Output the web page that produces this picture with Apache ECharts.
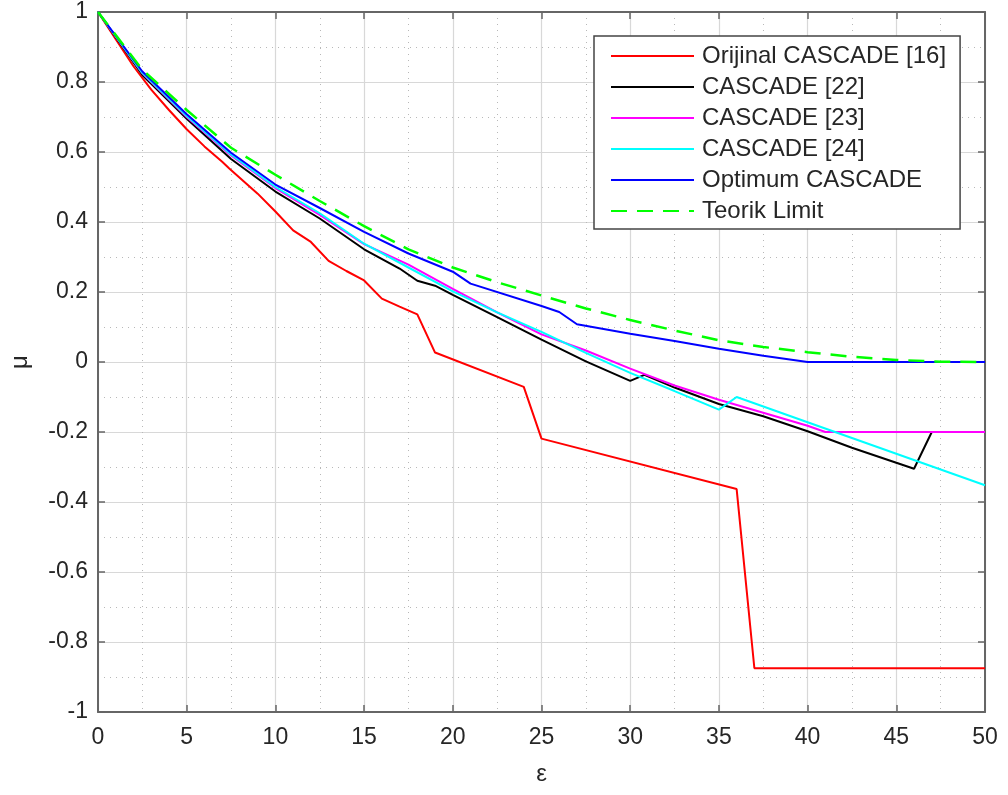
<!DOCTYPE html>
<html>
<head>
<meta charset="utf-8">
<title>CASCADE</title>
<script src="https://cdn.jsdelivr.net/npm/echarts@6/dist/echarts.min.js"></script>
<style>
    html, body { margin: 0; padding: 0; background: #fff; }
    #chart { width: 1008px; height: 795px; }
</style>
</head>
<body>
<div id="chart"></div>
<script>
// tick positions
const xTicks = [0, 5, 10, 15, 20, 25, 30, 35, 40, 45, 50];
const yTicks = [-1, -0.8, -0.6, -0.4, -0.2, 0, 0.2, 0.4, 0.6, 0.8, 1];

// Orijinal CASCADE [16]
const redX = [0, 1, 2, 3, 4, 5, 6, 7, 7.4, 9, 10, 11, 12, 13, 14, 15, 16, 17, 18, 19, 24, 25, 36, 37, 50];
const redY = [1, 0.922, 0.845, 0.778, 0.72, 0.665, 0.616, 0.572, 0.553, 0.481, 0.43, 0.376, 0.343, 0.289, 0.26, 0.233, 0.181, 0.158, 0.136, 0.027, -0.071, -0.219, -0.363, -0.875, -0.875];

// CASCADE [22]
const blackX = [0, 2.5, 5, 7.5, 10, 12.5, 15, 17, 18, 19, 20, 22.5, 25, 27.5, 30, 30.8, 32.5, 35, 37.5, 40, 42.5, 45, 46, 47, 50];
const blackY = [1, 0.82, 0.695, 0.58, 0.487, 0.41, 0.322, 0.267, 0.232, 0.218, 0.192, 0.128, 0.064, 0.002, -0.054, -0.037, -0.073, -0.12, -0.155, -0.198, -0.245, -0.288, -0.305, -0.2, -0.2];

// CASCADE [23]
const magentaX = [0, 2.5, 5, 7.5, 10, 12.5, 15, 17.5, 20, 22.5, 25, 27.5, 30, 32.5, 35, 37.5, 40, 41, 50];
const magentaY = [1, 0.825, 0.7, 0.59, 0.497, 0.42, 0.337, 0.278, 0.209, 0.142, 0.079, 0.033, -0.019, -0.067, -0.108, -0.145, -0.182, -0.2, -0.2];

// CASCADE [24]
const cyanX = [0, 2.5, 5, 7.5, 10, 12.5, 15, 17.5, 20, 22.5, 25, 27.5, 30, 32.5, 35, 36, 40, 45, 50];
const cyanY = [1, 0.826, 0.703, 0.593, 0.5, 0.425, 0.338, 0.27, 0.202, 0.142, 0.086, 0.026, -0.031, -0.083, -0.136, -0.1, -0.172, -0.262, -0.352];

// Optimum CASCADE
const blueX = [0, 2.5, 5, 7.5, 10, 12.5, 15, 17.5, 20, 21, 25, 26, 27, 30, 32.5, 35, 37.5, 40, 45, 50];
const blueY = [1, 0.83, 0.708, 0.598, 0.507, 0.44, 0.372, 0.31, 0.258, 0.224, 0.16, 0.143, 0.108, 0.081, 0.06, 0.038, 0.018, 0, 0, 0];

// Teorik Limit
const greenX = [0, 2.5, 5, 7.5, 10, 12.5, 15, 17.5, 20, 22.5, 25, 27.5, 30, 32.5, 35, 37.5, 40, 42.5, 45, 47.5, 50];
const greenY = [1, 0.835, 0.72, 0.612, 0.535, 0.46, 0.388, 0.322, 0.27, 0.228, 0.19, 0.153, 0.12, 0.09, 0.062, 0.043, 0.028, 0.015, 0.006, 0.001, 0];

const seriesNames = ['Orijinal CASCADE [16]', 'CASCADE [22]', 'CASCADE [23]', 'CASCADE [24]', 'Optimum CASCADE', 'Teorik Limit'];
const seriesColors = ['#ff0000', '#000000', '#ff00ff', '#00ffff', '#0000ff', '#00ff00'];

const pairs = (xs, ys) => xs.map((x, i) => [x, ys[i]]);
const allData = [
    pairs(redX, redY),
    pairs(blackX, blackY),
    pairs(magentaX, magentaY),
    pairs(cyanX, cyanY),
    pairs(blueX, blueY),
    pairs(greenX, greenY)
];

const font = '"Liberation Sans", Arial, Helvetica, sans-serif';
const axisColor = '#666';
const labelColor = '#262626';

const xBase = {
    type: 'value',
    min: xTicks[0],
    max: xTicks[xTicks.length - 1],
    interval: xTicks[1] - xTicks[0],
    axisLine: { show: true, onZero: false, lineStyle: { color: axisColor, width: 2 } },
    axisTick: { show: true, inside: true, length: 7, lineStyle: { color: axisColor, width: 1.5 } }
};
const yStep = Math.round((yTicks[1] - yTicks[0]) * 10) / 10;
const yBase = {
    type: 'value',
    min: yTicks[0],
    max: yTicks[yTicks.length - 1],
    interval: yStep,
    axisLine: { show: true, onZero: false, lineStyle: { color: axisColor, width: 2 } },
    axisTick: { show: true, inside: true, length: 7, lineStyle: { color: axisColor, width: 1.5 } }
};

const chart = echarts.init(document.getElementById('chart'), null, { renderer: 'canvas' });
chart.setOption({
    animation: false,
    backgroundColor: '#fff',
    grid: { left: 97, right: 23, top: 12, bottom: 83, containLabel: false },
    legend: {
        orient: 'vertical',
        left: 594,
        top: 36,
        // line samples only, no marker dot
        data: seriesNames.map(n => ({ name: n, itemStyle: { opacity: 0 } })),
        itemWidth: 83,
        itemHeight: 12,
        itemGap: 7,
        padding: [8, 14, 6, 16],
        backgroundColor: '#fff',
        borderColor: '#444',
        borderWidth: 1.5,
        borderRadius: 0,
        itemStyle: { opacity: 0 },
        textStyle: { fontFamily: font, fontSize: 24, lineHeight: 24, color: labelColor, padding: [0, 0, 0, 3] }
    },
    xAxis: [
        Object.assign({}, xBase, {
            position: 'bottom',
            name: 'ε',
            nameLocation: 'middle',
            nameGap: 50,
            nameTextStyle: { fontFamily: font, fontSize: 24, color: labelColor },
            axisLabel: { fontFamily: font, fontSize: 23, color: labelColor, margin: 14 },
            splitLine: { show: true, lineStyle: { color: '#d8d8d8', width: 1.2 } },
            minorTick: { show: false, splitNumber: 2 },
            minorSplitLine: { show: true, lineStyle: { color: '#b8b8b8', width: 1, type: [1, 5] } }
        }),
        Object.assign({}, xBase, {
            position: 'top',
            axisLabel: { show: false },
            splitLine: { show: false }
        })
    ],
    yAxis: [
        Object.assign({}, yBase, {
            position: 'left',
            name: 'μ',
            nameLocation: 'middle',
            nameGap: 66,
            nameTextStyle: { fontFamily: font, fontSize: 24, color: labelColor },
            axisLabel: {
                fontFamily: font, fontSize: 23, color: labelColor, margin: 10,
                formatter: v => String(Math.round(v * 10) / 10)
            },
            splitLine: { show: true, lineStyle: { color: '#d8d8d8', width: 1.2 } },
            minorTick: { show: false, splitNumber: 2 },
            minorSplitLine: { show: true, lineStyle: { color: '#b8b8b8', width: 1, type: [1, 5] } }
        }),
        Object.assign({}, yBase, {
            position: 'right',
            axisLabel: { show: false },
            splitLine: { show: false }
        })
    ],
    series: allData.map((d, i) => ({
        name: seriesNames[i],
        type: 'line',
        data: d,
        symbol: 'none',
        showSymbol: false,
        color: seriesColors[i],
        lineStyle: {
            color: seriesColors[i],
            width: i === 5 ? 2.5 : 2,
            type: i === 5 ? [16, 10] : 'solid'
        },
        z: 2 + i
    }))
});
</script>
</body>
</html>
